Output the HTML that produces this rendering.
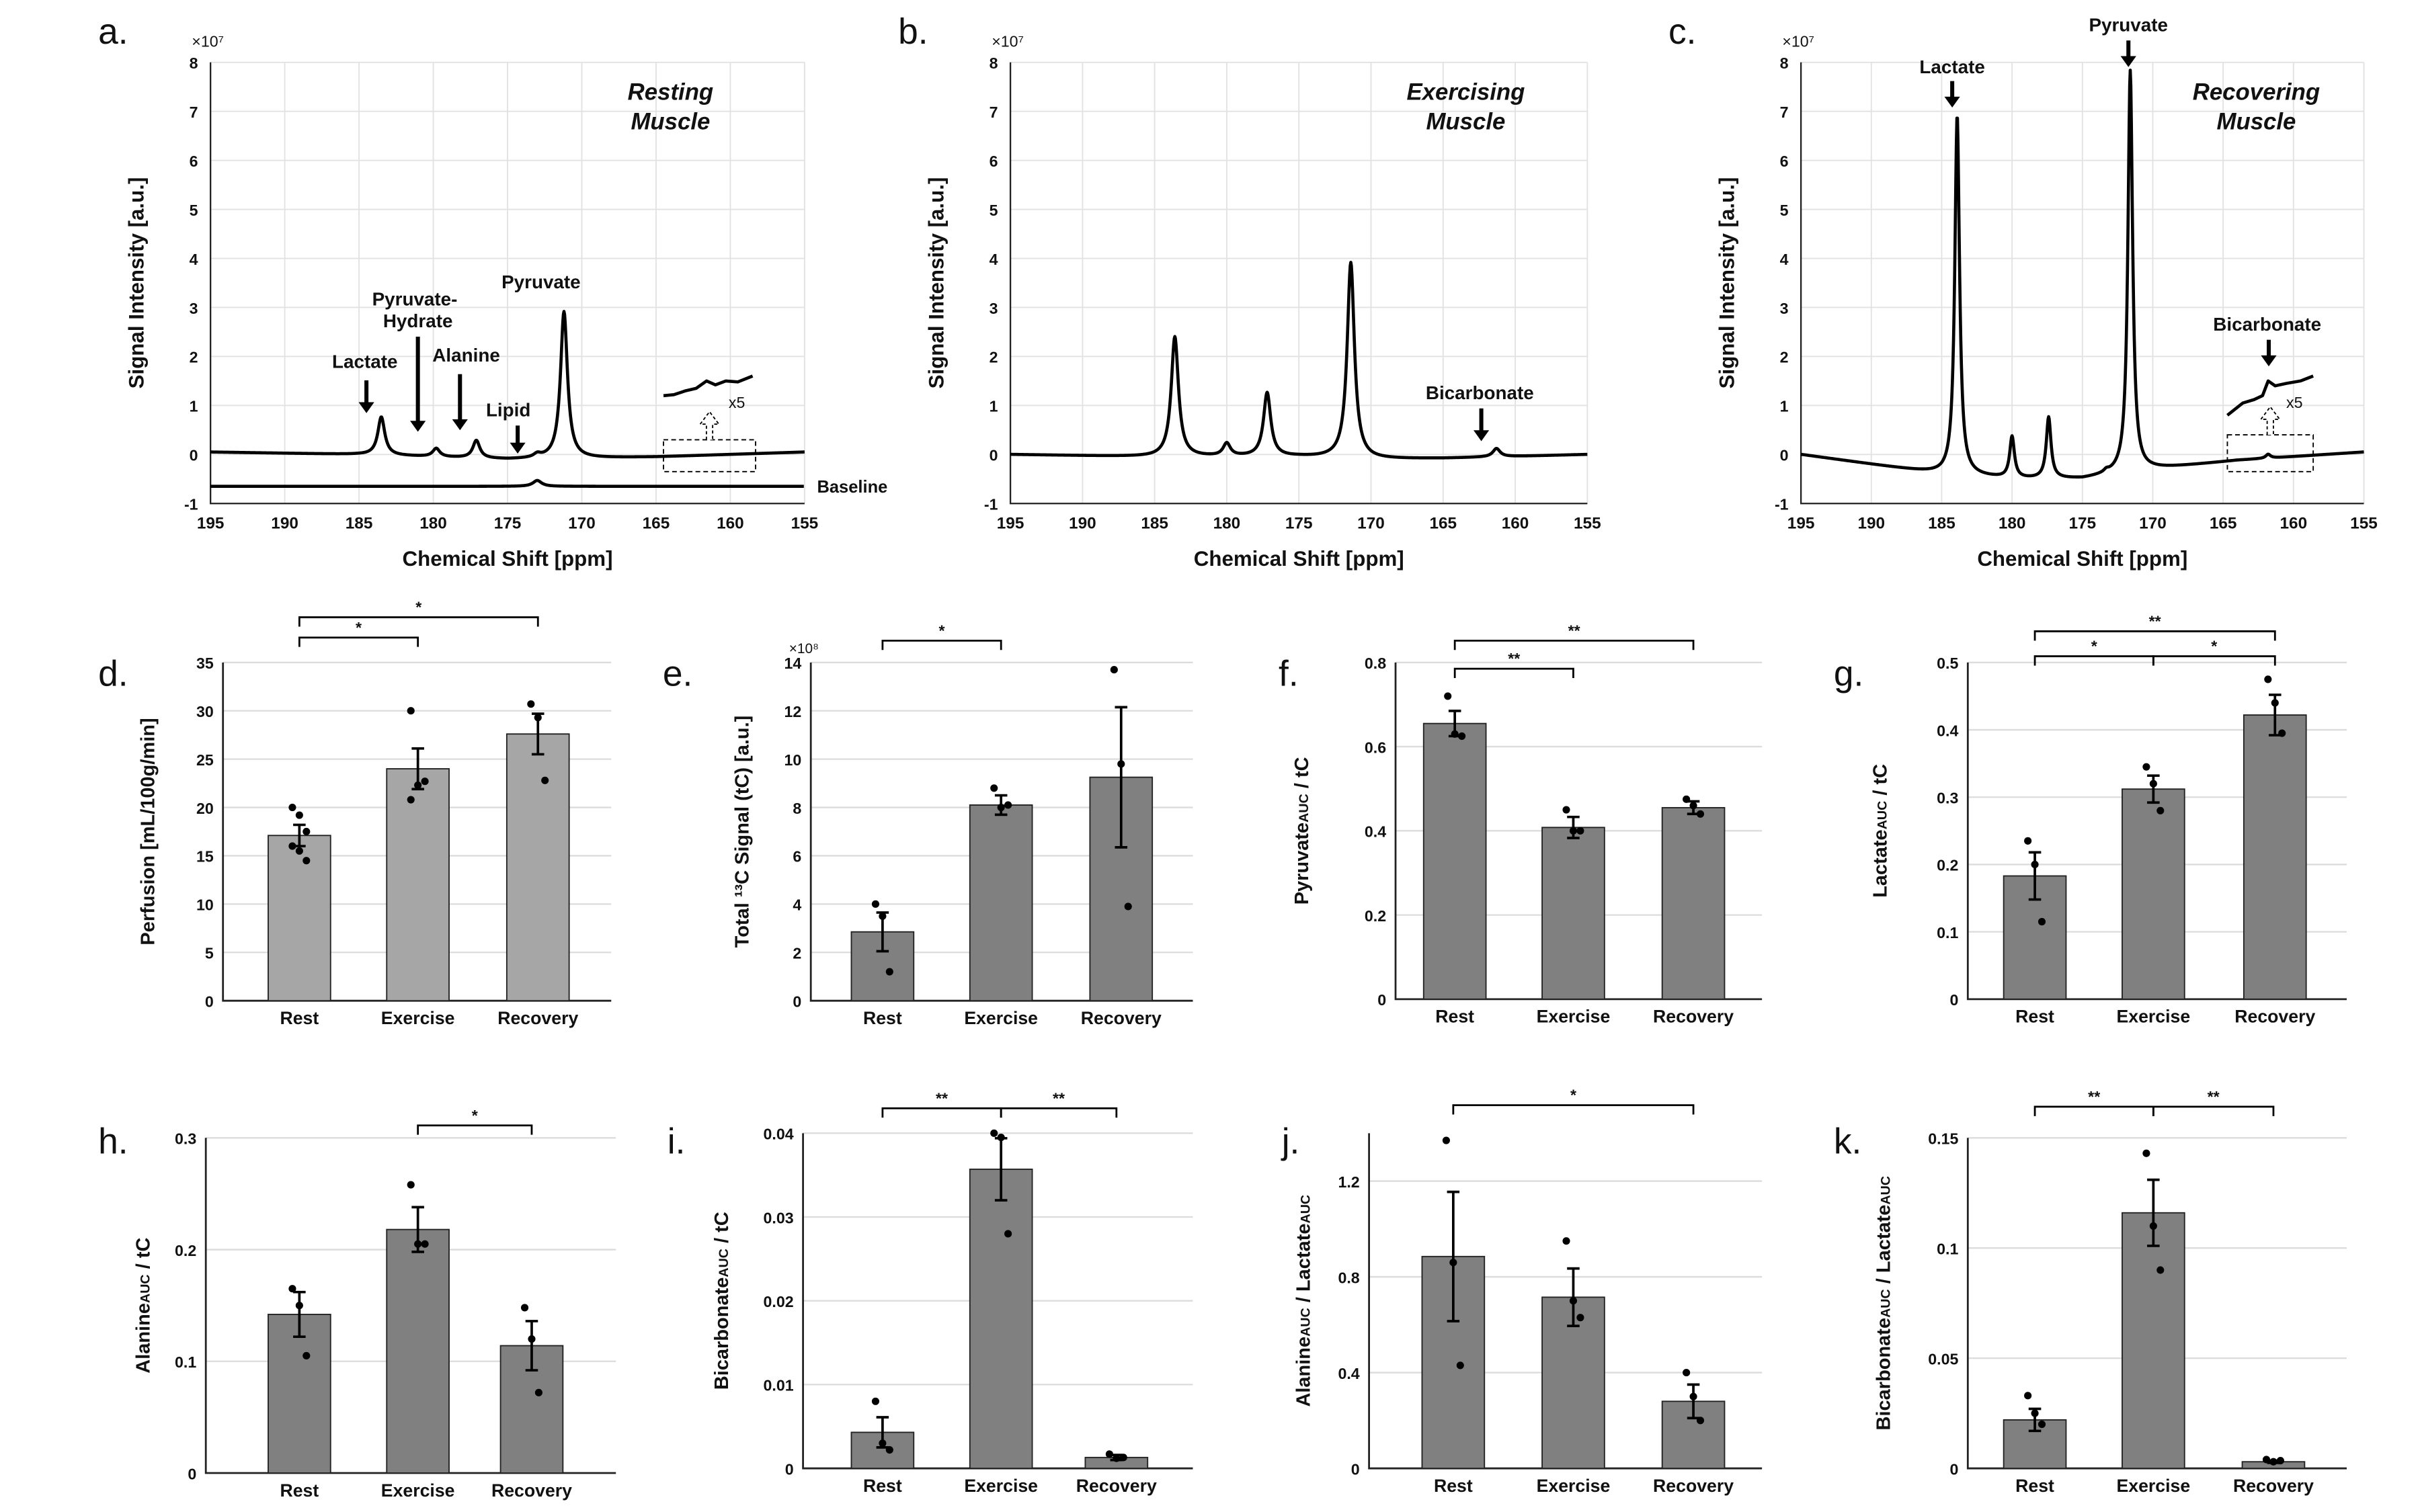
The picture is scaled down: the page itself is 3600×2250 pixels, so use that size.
<!DOCTYPE html>
<html><head><meta charset="utf-8"><style>
html,body{margin:0;padding:0;background:#fff;}
svg{display:block;font-family:"Liberation Sans Narrow","Liberation Sans",sans-serif;font-weight:bold;}
</style></head><body>
<svg id="fig" xmlns="http://www.w3.org/2000/svg" width="3600" height="2250" viewBox="0 0 1552 970"></svg>
<script>
// ---------- Spectra data ----------
const ppmTicks = [195,190,185,180,175,170,165,160,155];
const intTicks = [-1,0,1,2,3,4,5,6,7,8];
const aPeakPos = [183.5,179.8,177.1,173.0,171.2];
const aPeakAmp = [0.78,0.17,0.36,0.07,3.0];
const aBaseX = [195,185,175,170,165,155];
const aBaseY = [0.05,0.0,-0.1,-0.08,-0.05,0.05];
const aRefPos = [173.0];
const aRefAmp = [0.12];
const aRefLevel = -0.65;
const aInsetPpm = [164.5,163.8,163.0,162.3,161.6,161.0,160.3,159.5,158.5];
const aInsetVal = [1.2,1.22,1.3,1.35,1.5,1.42,1.5,1.48,1.6];
const bPeakPos = [183.6,180.0,177.2,171.4,161.3];
const bPeakAmp = [2.45,0.26,1.3,4.0,0.17];
const bBaseX = [195,185,175,170,165,155];
const bBaseY = [0.0,-0.05,-0.05,-0.1,-0.08,0.0];
const cPeakPos = [183.9,180.0,177.4,173.3,171.6,161.8];
const cPeakAmp = [7.35,0.85,1.25,0.05,8.2,0.08];
const cBaseX = [195,185,180,175,170,164,155];
const cBaseY = [0.0,-0.4,-0.5,-0.5,-0.3,-0.12,0.05];
const cInsetPpm = [164.7,163.6,162.8,162.2,161.8,161.3,160.5,159.5,158.6];
const cInsetVal = [0.8,1.05,1.12,1.2,1.5,1.4,1.45,1.5,1.6];

// ---------- Bar chart data ----------
const groups = ["Rest","Exercise","Recovery"];
const dMeans = [17.1,24.0,27.6], dErr=[1.1,2.1,2.1];
const dPts = [[20,19.2,17.5,16,15.5,14.5],[30,22.3,22.7,20.8],[30.7,29.3,22.8]];
const dTicks = [0,5,10,15,20,25,30,35];
const eMeans = [2.85,8.1,9.25], eErr=[0.8,0.4,2.9];
const ePts = [[4.0,3.5,1.2],[8.8,8.0,8.1],[13.7,9.8,3.9]];
const eTicks = [0,2,4,6,8,10,12,14];
const fMeans = [0.655,0.408,0.455], fErr=[0.03,0.025,0.015];
const fPts = [[0.72,0.63,0.625],[0.45,0.40,0.40],[0.475,0.46,0.44]];
const fTicks = [0,0.2,0.4,0.6,0.8];
const gMeans = [0.183,0.312,0.422], gErr=[0.035,0.02,0.03];
const gPts = [[0.235,0.2,0.115],[0.345,0.32,0.28],[0.475,0.44,0.395]];
const gTicks = [0,0.1,0.2,0.3,0.4,0.5];
const hMeans = [0.142,0.218,0.114], hErr=[0.02,0.02,0.022];
const hPts = [[0.165,0.15,0.105],[0.258,0.205,0.205],[0.148,0.12,0.072]];
const hTicks = [0,0.1,0.2,0.3];
const iMeans = [0.0043,0.0357,0.0013], iErr=[0.0018,0.0037,0.0003];
const iPts = [[0.008,0.003,0.0022],[0.04,0.0395,0.028],[0.0017,0.0012,0.0013]];
const iTicks = [0,0.01,0.02,0.03,0.04];
const jMeans = [0.885,0.715,0.28], jErr=[0.27,0.12,0.07];
const jPts = [[1.37,0.86,0.43],[0.95,0.70,0.63],[0.40,0.30,0.20]];
const jTicks = [0,0.4,0.8,1.2];
const kMeans = [0.022,0.116,0.003], kErr=[0.005,0.015,0.0005];
const kPts = [[0.033,0.025,0.02],[0.143,0.11,0.09],[0.004,0.003,0.0035]];
const kTicks = [0,0.05,0.1,0.15];

const NS="http://www.w3.org/2000/svg";
const svg=document.getElementById('fig');
function el(tag,attrs,parent){const e=document.createElementNS(NS,tag);for(const k in attrs)e.setAttribute(k,attrs[k]);(parent||svg).appendChild(e);return e;}
function txt(s,x,y,size,anchor,parent,extra){const t=el('text',Object.assign({x:x,y:y,'font-size':size,'text-anchor':anchor||'middle',fill:'#111'},extra||{}),parent);t.textContent=s;return t;}
function interp(xs,ys,x){for(let i=0;i<xs.length-1;i++){if(x<=xs[i]&&x>=xs[i+1]){const f=(x-xs[i])/(xs[i+1]-xs[i]);return ys[i]+f*(ys[i+1]-ys[i]);}}return ys[ys.length-1];}
function lor(x,p,a,w){return a*w*w/((x-p)*(x-p)+w*w);}

function spectrum(name,x0,x1,pos,amp,bx,by,opts){
  const g=el('g',{});
  
  
  const top=40,bot=323;
  const X=v=>x0+(195-v)/40*(x1-x0);
  const Y=v=>bot-(v+1)/9*(bot-top);
  ppmTicks.forEach(t=>{const l=el('line',{x1:X(t),x2:X(t),y1:top,y2:bot,stroke:'#e2e2e2','stroke-width':0.8},g);
    
    });
  intTicks.forEach(t=>{const l=el('line',{x1:x0,x2:x1,y1:Y(t),y2:Y(t),stroke:'#e2e2e2','stroke-width':0.8},g);
    
    });
  const ax=el('path',{d:`M${x0},${top}V${bot}H${x1}`,fill:'none',stroke:'#222','stroke-width':1},g);
  
  
  ppmTicks.forEach(t=>{const tt=txt(String(t),X(t),bot+16,10.5,'middle',g);
    
    });
  intTicks.forEach(t=>{const tt=txt(String(t),x0-8,Y(t)+4,10,'end',g);
    
    });
  const m=txt('×10⁷',x0-12,30,10,'start',g,{'font-weight':'normal'});
  
  
  const w=opts.width||0.22;
  let d='';
  for(let v=195;v>=155;v-=0.04){let y=interp(bx,by,v);for(let i=0;i<pos.length;i++)y+=lor(v,pos[i],amp[i],w);d+=(d?'L':'M')+X(v).toFixed(2)+','+Y(y).toFixed(2);}
  const p=el('path',{d:d,fill:'none',stroke:'#000','stroke-width':2,'stroke-linejoin':'round'},g);
  
  
  if(opts.inset){
    const [ia,ib,lo,hi,ip,iv]=opts.inset;
    let d2='';
    ip.forEach((v,i)=>{d2+=(i?'L':'M')+X(v).toFixed(2)+','+Y(iv[i]).toFixed(2);});
    const p2=el('path',{d:d2,fill:'none',stroke:'#000','stroke-width':2,'stroke-linejoin':'round'},g);
    
    
    const r=el('rect',{x:X(ia),y:Y(hi),width:X(ib)-X(ia),height:Y(lo)-Y(hi),fill:'none',stroke:'#000','stroke-width':0.8,'stroke-dasharray':'3,2'},g);
    
    
    const cx=(X(ia)+X(ib))/2;
    const ar=el('path',{d:`M${cx-2},${Y(hi)}V${Y(hi)-10}H${cx-6}L${cx},${Y(hi)-18}L${cx+6},${Y(hi)-10}H${cx+2}V${Y(hi)}`,fill:'#fff',stroke:'#000','stroke-width':0.8,'stroke-dasharray':'2,1.5'},g);
    
    
    const x5=txt('x5',X(ib)-12,Y(0.95),10,'middle',g,{'font-weight':'normal'});
    
    
  }
  if(opts.ref){
    let d3='';
    for(let v=195;v>=155;v-=0.05){let y=aRefLevel;for(let i=0;i<aRefPos.length;i++)y+=lor(v,aRefPos[i],aRefAmp[i],0.35);d3+=(d3?'L':'M')+X(v).toFixed(2)+','+Y(y).toFixed(2);}
    const p3=el('path',{d:d3,fill:'none',stroke:'#000','stroke-width':2},g);
    
    
  }
  const xl=txt('Chemical Shift [ppm]',(x0+x1)/2,363,13.5,'middle',g);
  
  
  const yl=txt('Signal Intensity  [a.u.]',0,0,13.5,'middle',g,{transform:`translate(${x0-43},${Y(3.5)}) rotate(-90)`});
  
  
  return {g,X,Y};
}
function arrow(g,x,y1,y2,name){const a=el('path',{d:`M${x-1.3},${y1}V${y2-7}H${x-5}L${x},${y2}L${x+5},${y2-7}H${x+1.3}V${y1}Z`,fill:'#000'},g);
  
  }
function label(g,s,x,y,size,name,extra){const t=txt(s,x,y,size||12,'middle',g,extra);
  
  return t;}

// Panel a
const A=spectrum('panel-a-resting-spectrum',135,516,aPeakPos,aPeakAmp,aBaseX,aBaseY,{width:0.28,inset:[164.5,158.3,-0.35,0.3,aInsetPpm,aInsetVal],ref:true});
label(A.g,'Lactate',234,236,12,'lactate-label');arrow(A.g,235,244,265,'lactate-arrow');
label(A.g,'Pyruvate-',266,196,12,'pyruvate-hydrate-label');label(A.g,'Hydrate',268,210,12,'pyruvate-hydrate-label-2');arrow(A.g,268,216,277,'pyruvate-hydrate-arrow');
label(A.g,'Alanine',299,232,12,'alanine-label');arrow(A.g,295,240,276,'alanine-arrow');
label(A.g,'Lipid',326,267,12,'lipid-label');arrow(A.g,332,273,291,'lipid-arrow');
label(A.g,'Pyruvate',347,185,12,'pyruvate-label');
label(A.g,'Resting',430,64,15,'title-resting',{'font-style':'italic'});label(A.g,'Muscle',430,83,15,'title-muscle',{'font-style':'italic'});
label(A.g,'Baseline',524,316,11,'baseline-label',{'text-anchor':'start'});
// Panel b
const B=spectrum('panel-b-exercising-spectrum',648,1018,bPeakPos,bPeakAmp,bBaseX,bBaseY,{width:0.3});
label(B.g,'Exercising',940,64,15,'title-exercising',{'font-style':'italic'});label(B.g,'Muscle',940,83,15,'title-muscle',{'font-style':'italic'});
label(B.g,'Bicarbonate',949,256,12,'bicarbonate-label');arrow(B.g,950,262,283,'bicarbonate-arrow');
// Panel c
const C=spectrum('panel-c-recovering-spectrum',1155,1516,cPeakPos,cPeakAmp,cBaseX,cBaseY,{width:0.2,inset:[164.7,158.6,-0.35,0.4,cInsetPpm,cInsetVal]});
label(C.g,'Lactate',1252,47,12,'lactate-label');arrow(C.g,1252,52,69,'lactate-arrow');
label(C.g,'Pyruvate',1365,20,12,'pyruvate-label');arrow(C.g,1365,26,43,'pyruvate-arrow');
label(C.g,'Recovering',1447,64,15,'title-recovering',{'font-style':'italic'});label(C.g,'Muscle',1447,83,15,'title-muscle',{'font-style':'italic'});
label(C.g,'Bicarbonate',1454,212,12,'bicarbonate-label');arrow(C.g,1455,218,235,'bicarbonate-arrow');

// ---------- Bar panels ----------
function barPanel(name,L,R,top,bot,ymax,ticks,means,err,pts,cx,color,ylab,labOff,sig,mult){
  const g=el('g',{});
  
  
  const Y=v=>bot-v/ymax*(bot-top);
  ticks.forEach(t=>{
    if(t>0){const l=el('line',{x1:L,x2:R,y1:Y(t),y2:Y(t),stroke:'#dcdcdc','stroke-width':1},g);
      
      }
    const tt=txt(String(t),L-6,Y(t)+4,10,'end',g);
    
    
  });
  const ax=el('path',{d:`M${L},${top}V${bot}H${R}`,fill:'none',stroke:'#222','stroke-width':1.2},g);
  
  
  means.forEach((m,i)=>{
    const b=el('rect',{x:cx[i]-20,y:Y(m),width:40,height:bot-Y(m),fill:color,stroke:'#222','stroke-width':0.8},g);
    
    
    const e=el('path',{d:`M${cx[i]},${Y(m-err[i])}V${Y(m+err[i])}M${cx[i]-4},${Y(m-err[i])}H${cx[i]+4}M${cx[i]-4},${Y(m+err[i])}H${cx[i]+4}`,stroke:'#000','stroke-width':1.6,fill:'none'},g);
    
    
    pts[i].forEach((p,j)=>{
      const off=((j%3)-1)*4.5;
      const c=el('circle',{cx:cx[i]+off,cy:Y(p),r:2.4,fill:'#000'},g);
      
      
    });
    const xl=txt(groups[i],cx[i],bot+15,11.5,'middle',g);
    
    
  });
  const yl=el('text',{x:0,y:0,'font-size':12.5,'text-anchor':'middle',fill:'#111',transform:`translate(${L-labOff},${(top+bot)/2}) rotate(-90)`},g);
  yl.innerHTML=ylab.replace(/AUC/g,'<tspan font-size="8.5">AUC</tspan>');
  
  
  sig.forEach(s=>{
    const [a,b,y,st]=s;
    const br=el('path',{d:`M${cx[a]},${y+6}V${y}H${cx[b]}V${y+6}`,fill:'none',stroke:'#000','stroke-width':1.2},g);
    
    
    const t=txt(st,(cx[a]+cx[b])/2,y-3,10,'middle',g);
    
    
  });
  if(mult){const m=txt(mult,L-14,top-6,9,'start',g,{'font-weight':'normal'});
    
    }
}
barPanel('panel-d-perfusion',143,392,425,642,35,dTicks,dMeans,dErr,dPts,[192,268,345],'#a6a6a6','Perfusion [mL/100g/min]',44,[[0,1,409,'*'],[0,2,396,'*']]);
barPanel('panel-e-total-signal',520,765,425,642,14,eTicks,eMeans,eErr,ePts,[566,642,719],'#808080','Total ¹³C Signal (tC)  [a.u.]',40,[[0,1,411,'*']],'×10⁸');
barPanel('panel-f-pyruvate',895,1130,425,641,0.8,fTicks,fMeans,fErr,fPts,[933,1009,1086],'#808080','PyruvateAUC / tC',56,[[0,1,429,'**'],[0,2,411,'**']]);
barPanel('panel-g-lactate',1262,1505,425,641,0.5,gTicks,gMeans,gErr,gPts,[1305,1381,1459],'#808080','LactateAUC / tC',52,[[0,1,421,'*'],[1,2,421,'*'],[0,2,405,'**']]);
barPanel('panel-h-alanine',132,395,730,945,0.3,hTicks,hMeans,hErr,hPts,[192,268,341],'#808080','AlanineAUC / tC',36,[[1,2,722,'*']]);
barPanel('panel-i-bicarbonate',515,765,727,942,0.04,iTicks,iMeans,iErr,iPts,[566,642,716],'#808080','BicarbonateAUC / tC',48,[[0,1,711,'**'],[1,2,711,'**']]);
barPanel('panel-j-alanine-lactate',878,1130,727,942,1.4,jTicks,jMeans,jErr,jPts,[932,1009,1086],'#808080','AlanineAUC / LactateAUC',38,[[0,2,709,'*']]);
barPanel('panel-k-bicarbonate-lactate',1262,1505,730,942,0.15,kTicks,kMeans,kErr,kPts,[1305,1381,1458],'#808080','BicarbonateAUC / LactateAUC',50,[[0,1,710,'**'],[1,2,710,'**']]);

// panel letters
const letters=[['a.',63,28],['b.',576,28],['c.',1070,28],['d.',63,440],['e.',425,440],['f.',820,440],['g.',1176,440],['h.',63,740],['i.',428,740],['j.',822,740],['k.',1176,740]];
letters.forEach(l=>{const t=txt(l[0],l[1],l[2],23,'start',null,{'font-family':'"Liberation Sans",sans-serif','font-weight':'normal'});
  
  });
</script>
</body></html>
